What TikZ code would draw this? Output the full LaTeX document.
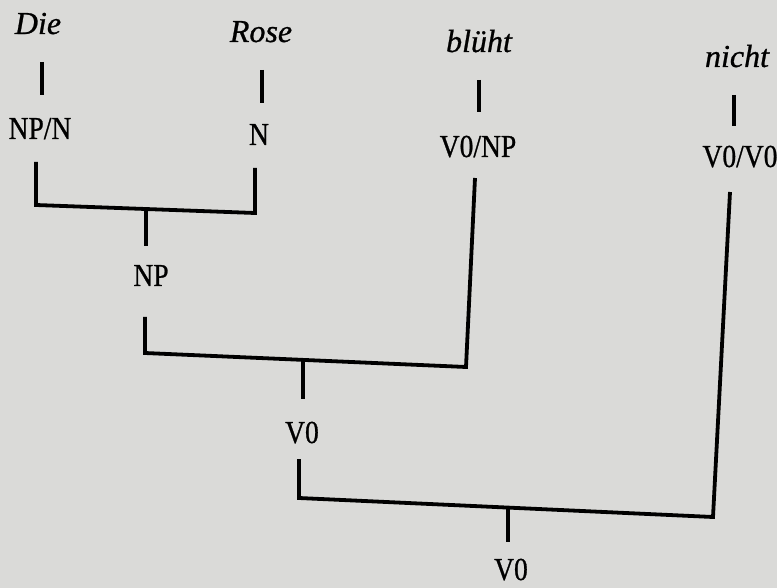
\documentclass[tikz,border=0pt]{standalone}
\usepackage{fontspec}
\setmainfont{Liberation Serif}[FakeStretch=0.86,FakeBold=0.8]
\newfontfamily\wordfont{Liberation Serif}[FakeBold=0.8]
\definecolor{paper}{RGB}{218,218,216}
\begin{document}
\begin{tikzpicture}[x=1pt,y=-1pt,
  cat/.style={anchor=base,inner sep=0pt,font=\fontsize{32}{36}\selectfont},
  word/.style={anchor=base,inner sep=0pt,font=\wordfont\itshape\fontsize{32}{36}\selectfont},
  edge/.style={line width=3.8pt,line join=miter,line cap=butt}]
\fill[paper] (0,0) rectangle (777,588);
\useasboundingbox (0,0) rectangle (777,588);
% words
\node[word] (die) at (38,34) {Die};
\node[word] (rose) at (261,42) {Rose};
\node[word] (blueht) at (479,52) {blüht};
\node[word] (nicht) at (737,67) {nicht};
% categories
\node[cat] (npn) at (40,139) {NP/N};
\node[cat] (n) at (259,145) {N};
\node[cat] (v0np) at (478,157) {V0/NP};
\node[cat] (v0v0) at (740,167) {V0/V0};
\node[cat] (np) at (151,286) {NP};
\node[cat] (v0a) at (302,443) {V0};
\node[cat] (v0b) at (511,580) {V0};
% tick coordinates
\coordinate (t1a) at (42,62);  \coordinate (t1b) at (42,95);
\coordinate (t2a) at (262,70); \coordinate (t2b) at (262,103);
\coordinate (t3a) at (479,80); \coordinate (t3b) at (479,112);
\coordinate (t4a) at (734,95); \coordinate (t4b) at (734,126);
\draw[edge] (t1a) -- (t1b);
\draw[edge] (t2a) -- (t2b);
\draw[edge] (t3a) -- (t3b);
\draw[edge] (t4a) -- (t4b);
% branch 1: NP/N + N -> NP
\coordinate (b1l) at (36,162); \coordinate (b1lc) at (36,205);
\coordinate (b1rc) at (255,213); \coordinate (b1r) at (255,168);
\coordinate (s1a) at (146,208); \coordinate (s1b) at (146,246);
\draw[edge] (b1l) -- (b1lc) -- (b1rc) -- (b1r);
\draw[edge] (s1a) -- (s1b);
% branch 2: NP + V0/NP -> V0
\coordinate (b2l) at (145,317); \coordinate (b2lc) at (145,353);
\coordinate (b2rc) at (466,367); \coordinate (b2r) at (475,178);
\coordinate (s2a) at (303,359); \coordinate (s2b) at (303,399);
\draw[edge] (b2l) -- (b2lc) -- (b2rc) -- (b2r);
\draw[edge] (s2a) -- (s2b);
% branch 3: V0 + V0/V0 -> V0
\coordinate (b3l) at (299,459); \coordinate (b3lc) at (299,498);
\coordinate (b3rc) at (713,517); \coordinate (b3r) at (730,192);
\coordinate (s3a) at (508,507); \coordinate (s3b) at (508,542);
\draw[edge] (b3l) -- (b3lc) -- (b3rc) -- (b3r);
\draw[edge] (s3a) -- (s3b);
\end{tikzpicture}
\end{document}
